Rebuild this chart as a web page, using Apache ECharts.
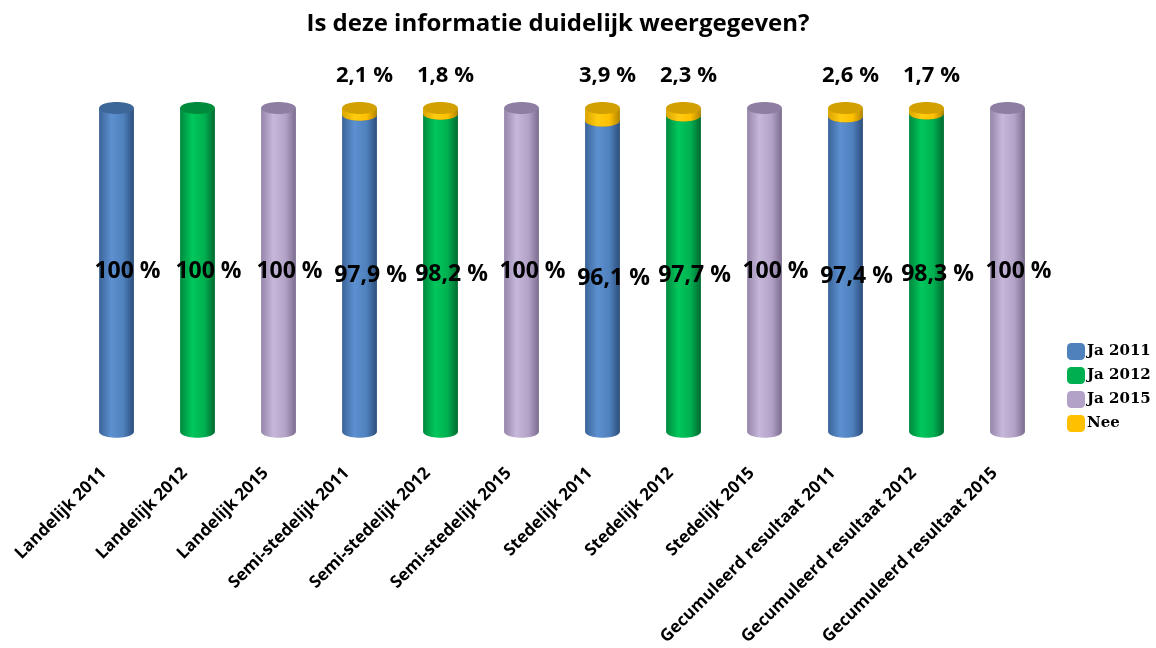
<!DOCTYPE html>
<html>
<head>
<meta charset="utf-8">
<script src="https://cdn.jsdelivr.net/npm/echarts@6/dist/echarts.min.js"></script>
<style>html,body{margin:0;padding:0;background:#fff}#c{width:1156px;height:648px}</style>
</head>
<body>
<div id="c"></div>
<script>
const categories = ['Landelijk 2011','Landelijk 2012','Landelijk 2015','Semi-stedelijk 2011','Semi-stedelijk 2012','Semi-stedelijk 2015','Stedelijk 2011','Stedelijk 2012','Stedelijk 2015','Gecumuleerd resultaat 2011','Gecumuleerd resultaat 2012','Gecumuleerd resultaat 2015'];
const ja2011 = [100, null, null, 97.9, null, null, 96.1, null, null, 97.4, null, null];
const ja2012 = [null, 100, null, null, 98.2, null, null, 97.7, null, null, 98.3, null];
const ja2015 = [null, null, 100, null, null, 100, null, null, 100, null, null, 100];
const nee    = [null, null, null, 2.1, 1.8, null, 3.9, 2.3, null, 2.6, 1.7, null];
const seriesNames = ['Ja 2011', 'Ja 2012', 'Ja 2015', 'Nee'];

const palette = {
  'Ja 2011': {base:'#4f81bd', stops:['#3a6498','#5d90d0','#4f81bd','#2c4e7c'], top:'#3d6699'},
  'Ja 2012': {base:'#00b050', stops:['#00893e','#00c75c','#00b050','#006a30'], top:'#008a3c'},
  'Ja 2015': {base:'#b3a2c7', stops:['#9586a9','#c6b8da','#b3a2c7','#7b6d8f'], top:'#8e7fa2'},
  'Nee':     {base:'#ffc000', stops:['#d9a400','#ffcc10','#ffc000','#b08400'], top:'#d2a000'}
};

function fmt(v){ return String(v).replace('.', ',') + ' %'; }

const lists = [ja2011, ja2012, ja2015, nee];
const baseSum = categories.map(() => 0);
const seriesData = lists.map(list => {
  const out = [];
  list.forEach((v, i) => {
    if (v != null) { out.push([i, v, baseSum[i]]); baseSum[i] += v; }
  });
  return out;
});

function makeRender(name, isNee){
  const p = palette[name];
  return function(params, api){
    const idx = api.value(0), val = api.value(1), base = api.value(2);
    const x = api.coord([idx, 0])[0];
    const yTop = api.coord([idx, base + val])[1];
    const yBot = api.coord([idx, base])[1];
    const rx = api.size([1, 0])[0] * 0.215;
    const ry = 6;
    const N = 24;
    const body = [[x - rx, yTop], [x - rx, yBot]];
    for (let t = 1; t < N; t++) {
      const a = Math.PI - Math.PI * t / N;
      body.push([x + rx * Math.cos(a), yBot + ry * Math.sin(a)]);
    }
    body.push([x + rx, yBot], [x + rx, yTop]);
    const topE = [];
    for (let t = 0; t < 2 * N; t++) {
      const a = 2 * Math.PI * t / (2 * N);
      topE.push([x + rx * Math.cos(a), yTop + ry * Math.sin(a)]);
    }
    const grad = {type:'linear', x:0, y:0, x2:1, y2:0, colorStops:[
      {offset:0, color:p.stops[0]}, {offset:0.35, color:p.stops[1]}, {offset:0.7, color:p.stops[2]}, {offset:1, color:p.stops[3]}]};
    const children = [
      {type:'polygon', shape:{points: body}, style:{fill: grad}},
      {type:'polygon', shape:{points: topE}, style:{fill: p.top}}
    ];
    const lx = isNee ? x + 5 : x + 11;
    const ly = isNee ? yTop - 32 : (yTop + yBot) / 2 + 2;
    children.push({type:'text', z2: 100, style:{text: fmt(val), x: lx, y: ly, align:'center', verticalAlign:'middle',
      fontSize: isNee ? 22 : 23, fontWeight:'bold', fontFamily:'"Open Sans", sans-serif', fill:'#000'}});
    return {type:'group', children};
  };
}

const chart = echarts.init(document.getElementById('c'));
chart.setOption({
  animation: false,
  title: {text:'Is deze informatie duidelijk weergegeven?', left: 553, top: 7, textAlign:'center',
    textStyle:{fontSize: 24, fontWeight:'bold', fontFamily:'"Open Sans", sans-serif', color:'#000'}},
  legend: {orient:'vertical', left: 1062, top: 338, itemWidth: 18, itemHeight: 17, itemGap: 7, icon:'roundRect',
    data: seriesNames,
    textStyle:{fontSize: 15, fontWeight:'bold', fontFamily:'"DejaVu Serif", serif', color:'#000', padding:[0,0,0,-3]}},
  grid: {left: 76, right: 108, top: 108, bottom: 216},
  xAxis: {type:'category', data: categories, axisLine:{show:false}, axisTick:{show:false},
    axisLabel:{rotate: 45, margin: 26, interval: 0, fontSize: 17, fontWeight:'bold', fontFamily:'"Open Sans", sans-serif', color:'#000', padding:[0,18,0,0]}},
  yAxis: {type:'value', min: 0, max: 100, show: false, splitLine:{show:false}},
  series: seriesNames.map((n, i) => ({
    name: n, type:'custom', renderItem: makeRender(n, n === 'Nee'), data: seriesData[i],
    encode:{x:0, y:1}, itemStyle:{color: palette[n].base}, clip:false
  }))
});
</script>
</body>
</html>
